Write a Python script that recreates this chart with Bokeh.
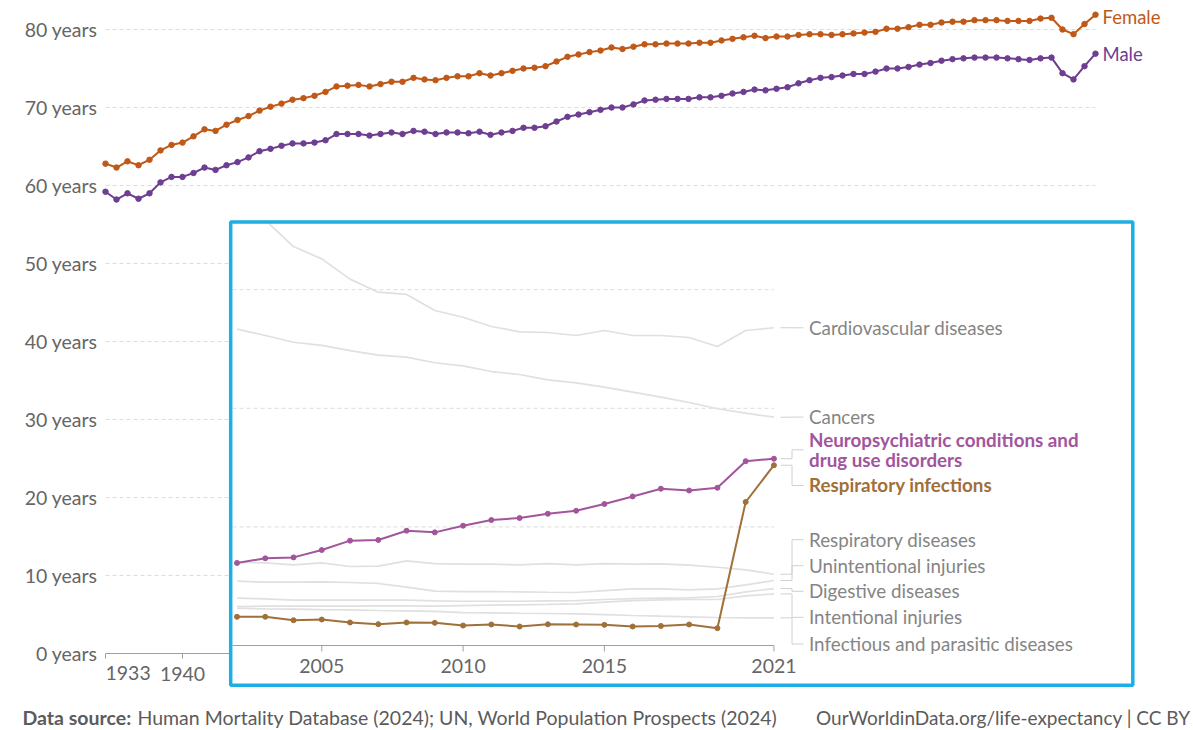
from bokeh.plotting import figure
from bokeh.models import Range1d, FixedTicker, Label, BoxAnnotation, LinearAxis
from bokeh.embed import file_html
from bokeh.resources import INLINE

# ---------------- data ----------------
years = list(range(1933, 2024))
female = [62.8, 62.3, 63.1, 62.6, 63.3, 64.5, 65.2, 65.5, 66.3, 67.2,
          67.0, 67.8, 68.4, 68.9, 69.6, 70.1, 70.5, 71.0, 71.2, 71.5,
          72.0, 72.7, 72.8, 72.9, 72.7, 73.0, 73.3, 73.3, 73.8, 73.6,
          73.5, 73.8, 74.0, 74.0, 74.4, 74.1, 74.4, 74.7, 75.0, 75.1,
          75.3, 75.9, 76.5, 76.8, 77.1, 77.3, 77.7, 77.5, 77.8, 78.1,
          78.1, 78.2, 78.2, 78.2, 78.3, 78.3, 78.6, 78.8, 79.0, 79.2,
          78.9, 79.1, 79.1, 79.3, 79.4, 79.4, 79.3, 79.4, 79.5, 79.6,
          79.7, 80.1, 80.1, 80.3, 80.6, 80.6, 80.9, 81.0, 81.0, 81.2,
          81.2, 81.2, 81.1, 81.1, 81.1, 81.4, 81.5, 80.0, 79.4, 80.7,
          81.9]
male = [59.2, 58.2, 59.0, 58.3, 59.0, 60.4, 61.1, 61.1, 61.6, 62.3,
        62.0, 62.6, 63.0, 63.6, 64.4, 64.7, 65.1, 65.4, 65.4, 65.5,
        65.8, 66.6, 66.6, 66.6, 66.4, 66.6, 66.8, 66.6, 67.0, 66.9,
        66.6, 66.8, 66.8, 66.7, 66.9, 66.5, 66.8, 67.0, 67.4, 67.4,
        67.6, 68.2, 68.8, 69.1, 69.4, 69.7, 70.0, 70.0, 70.4, 70.9,
        71.0, 71.1, 71.1, 71.1, 71.3, 71.3, 71.5, 71.8, 72.0, 72.3,
        72.2, 72.4, 72.6, 73.1, 73.5, 73.8, 73.9, 74.1, 74.3, 74.3,
        74.6, 75.0, 75.0, 75.2, 75.5, 75.7, 76.0, 76.2, 76.3, 76.4,
        76.4, 76.4, 76.3, 76.2, 76.1, 76.3, 76.4, 74.4, 73.6, 75.3,
        76.9]

inset_years = list(range(2002, 2022))
cardiovascular = [float("nan"), 358.7, 336.4, 326.0, 308.9, 297.9, 296.0, 282.5, 276.8, 269.0,
                  264.5, 263.9, 261.4, 265.6, 261.4, 261.4, 259.7, 252.1, 265.6, 267.9]
cancers = [266.7, 261.4, 255.7, 253.0, 248.7, 244.8, 243.1, 238.4, 235.8, 231.0,
           228.5, 224.0, 221.5, 217.8, 213.6, 209.4, 204.9, 199.6, 195.9, 192.5]
neuropsychiatric = [69.6, 73.5, 74.3, 80.5, 88.4, 89.0, 96.8, 95.4, 101.0, 105.8,
                    107.5, 111.1, 113.6, 119.3, 125.7, 132.2, 130.7, 133.0, 155.4, 157.5]
respiratory_infections = [24.2, 24.2, 21.3, 21.9, 19.4, 18.0, 19.4, 19.1, 16.8, 17.7,
                          16.0, 17.9, 17.7, 17.4, 16.0, 16.5, 17.7, 14.6, 121.0, 152.0]
respiratory_diseases = [70.2, 69.7, 68.0, 69.7, 66.6, 66.9, 71.4, 69.1, 68.6, 68.6,
                        68.0, 69.1, 68.0, 69.1, 68.6, 68.8, 67.7, 66.0, 63.8, 60.1]
unintentional_injuries = [54.2, 53.4, 53.4, 53.7, 53.1, 52.3, 49.2, 45.8, 45.5, 45.5,
                          45.2, 44.9, 44.7, 46.3, 47.8, 47.8, 46.9, 47.8, 51.1, 54.8]
digestive_diseases = [39.9, 39.3, 38.2, 38.2, 38.2, 38.2, 38.2, 37.6, 37.3, 37.3,
                      37.3, 37.6, 37.9, 38.8, 39.6, 39.9, 40.2, 41.3, 45.2, 48.0]
intentional_injuries = [32.9, 33.2, 33.2, 33.2, 33.2, 33.4, 33.4, 33.2, 33.7, 34.0,
                        34.3, 34.6, 35.1, 36.5, 37.9, 38.5, 38.8, 38.8, 41.8, 43.5]
infectious_parasitic = [31.5, 30.9, 30.6, 30.3, 30.1, 29.5, 29.2, 28.7, 27.8, 27.5,
                        27.2, 27.0, 26.7, 26.1, 25.3, 24.7, 24.2, 23.6, 23.3, 23.3]

y_ticks = [0, 10, 20, 30, 40, 50, 60, 70, 80]
y_tick_labels = {t: f"{t} years" for t in y_ticks}
main_x_ticks = [1933, 1940]
inset_x_ticks = [2005, 2010, 2015, 2021]
inset_grid_values = [100, 200, 300]

series_names = ["Female", "Male"]
inset_label_names = ["Cardiovascular diseases", "Cancers",
                     "Neuropsychiatric conditions and", "drug use disorders",
                     "Respiratory infections", "Respiratory diseases",
                     "Unintentional injuries", "Digestive diseases",
                     "Intentional injuries", "Infectious and parasitic diseases"]
footer_bold = "Data source:"
footer_text = "Human Mortality Database (2024); UN, World Population Prospects (2024)"
footer_right = "OurWorldinData.org/life-expectancy | CC BY"

# ---------------- styling / geometry ----------------
FONT = "Lato"
C_FEMALE = "#c05917"
C_MALE = "#6d3e91"
C_NEURO = "#a2559c"
C_RESPINF = "#a0703a"
C_GRAYLINE = "#e0e0e0"
C_GRAYTXT = "#858585"
C_AXTXT = "#666666"
C_FOOT = "#5b5b5b"
C_BLUE = "#1eaee6"
AX_SIZE = "19.5px"
LAB_SIZE = "18.8px"

W, H = 1193, 730
X0_PX, MX_PER = 105.0, 11.0      # page px of first year, px per year
Y0_PX, MY_PER = 653.0, 7.8       # page px of 0 years, px per year of life


def mx(px):
    return years[0] + (px - X0_PX) / MX_PER


def my(py):
    return (Y0_PX - py) / MY_PER


I_X0, I_PER_X = 236.5, 28.26
I_Y0, I_PER_Y = 645.0, 1.186


def ix(px):
    return inset_years[0] + (px - I_X0) / I_PER_X


def iy(py):
    return (I_Y0 - py) / I_PER_Y


p = figure(width=W, height=H, output_backend="svg", toolbar_location=None,
           x_range=Range1d(mx(0), mx(W)), y_range=Range1d(my(H), my(0)),
           x_axis_type=None, y_axis_type=None,
           min_border_left=0, min_border_right=0, min_border_top=0, min_border_bottom=0)
p.extra_x_ranges = {"inset": Range1d(ix(0), ix(W))}
p.extra_y_ranges = {"inset": Range1d(iy(H), iy(0))}
p.outline_line_color = None
p.background_fill_color = "white"
p.border_fill_color = "white"
p.xgrid.visible = False
p.ygrid.visible = False

# main gridlines (dashed, span the data years)
grid_vals = y_ticks[1:]
p.segment(x0=[years[0]] * len(grid_vals), x1=[years[-1]] * len(grid_vals),
          y0=grid_vals, y1=grid_vals, line_color="#dcdcdc", line_width=1,
          line_dash="4 3", level="underlay")

# axes
yax = LinearAxis(fixed_location=years[0], ticker=FixedTicker(ticks=y_ticks),
                 major_label_overrides=y_tick_labels)
yax.axis_line_color = None
yax.major_tick_line_color = None
yax.minor_tick_line_color = None
yax.major_tick_out = 0
yax.major_tick_in = 0
yax.major_label_standoff = 8
yax.major_label_text_font = FONT
yax.major_label_text_font_size = AX_SIZE
yax.major_label_text_color = C_AXTXT
p.add_layout(yax, "left")

xax = LinearAxis(fixed_location=0, ticker=FixedTicker(ticks=main_x_ticks),
                 major_label_overrides={main_x_ticks[0]: ""}, bounds=(years[0], mx(229)))
xax.axis_line_color = "#a0a0a0"
xax.major_tick_line_color = "#a0a0a0"
xax.major_tick_in = 0
xax.major_tick_out = 5
xax.minor_tick_line_color = None
xax.major_label_standoff = 8
xax.major_label_text_font = FONT
xax.major_label_text_font_size = AX_SIZE
xax.major_label_text_color = C_AXTXT
p.add_layout(xax, "below")

p.add_layout(Label(x=main_x_ticks[0], y=my(672), text=str(main_x_ticks[0]), text_align="left",
                   text_baseline="middle", text_font=FONT, text_font_size=AX_SIZE,
                   text_color=C_AXTXT))

# main series
for vals, col, name, yoff in [(female, C_FEMALE, series_names[0], -2), (male, C_MALE, series_names[1], 0)]:
    p.line(years, vals, line_color=col, line_width=2)
    p.scatter(years, vals, size=5.5, fill_color=col, line_color=col)
    p.add_layout(Label(x=years[-1], y=vals[-1], x_offset=7, y_offset=yoff, text=name,
                       text_baseline="middle", text_font=FONT, text_font_size="18.5px",
                       text_color=col))

# inset panel background
BOX = dict(left=mx(230.2), right=mx(1132.3), top=my(221.5), bottom=my(684.7))
p.add_layout(BoxAnnotation(**BOX, fill_color="white", fill_alpha=1.0, line_color=None,
                           level="annotation"))

IR = dict(x_range_name="inset", y_range_name="inset", level="overlay")

# inset gridlines and axis
p.segment(x0=[ix(232)] * len(inset_grid_values), x1=[inset_years[-1]] * len(inset_grid_values),
          y0=inset_grid_values, y1=inset_grid_values, line_color="#dcdcdc", line_width=1,
          line_dash="4 3", **IR)
p.segment(x0=[ix(232)], x1=[inset_years[-1]], y0=[0], y1=[0], line_color="#a0a0a0",
          line_width=1, **IR)
p.segment(x0=inset_x_ticks, x1=inset_x_ticks, y0=[0] * len(inset_x_ticks),
          y1=[iy(651)] * len(inset_x_ticks), line_color="#a0a0a0", line_width=1, **IR)
for t in inset_x_ticks:
    p.add_layout(Label(x=t, y=iy(665), text=str(t), text_align="center",
                       text_baseline="middle", text_font=FONT, text_font_size=AX_SIZE,
                       text_color=C_AXTXT, x_range_name="inset", y_range_name="inset",
                       level="overlay"))

# inset series
gray_series = [cardiovascular, cancers, respiratory_diseases, unintentional_injuries,
               digestive_diseases, intentional_injuries, infectious_parasitic]
for s in gray_series:
    p.line(inset_years, s, line_color=C_GRAYLINE, line_width=1.7, **IR)
for s, col in [(neuropsychiatric, C_NEURO), (respiratory_infections, C_RESPINF)]:
    p.line(inset_years, s, line_color=col, line_width=2, **IR)
    p.scatter(inset_years, s, size=5, fill_color=col, line_color=col, **IR)

# inset labels: (series, text indices, text centres in page px, connector y in page px, color, bold)
label_specs = [
    (cardiovascular, [0], [326.5], 327.3, C_GRAYTXT, False),
    (cancers, [1], [416.0], 416.6, C_GRAYTXT, False),
    (neuropsychiatric, [2, 3], [438.5, 458.5], 449.3, C_NEURO, True),
    (respiratory_infections, [4], [484.0], 485.0, C_RESPINF, True),
    (respiratory_diseases, [5], [538.5], 539.2, C_GRAYTXT, False),
    (unintentional_injuries, [6], [564.5], 565.2, C_GRAYTXT, False),
    (digestive_diseases, [7], [590.0], 590.8, C_GRAYTXT, False),
    (intentional_injuries, [8], [616.0], 616.8, C_GRAYTXT, False),
    (infectious_parasitic, [9], [642.5], 643.5, C_GRAYTXT, False),
]
cx, cy = [], []
for s, idxs, mids, conn, col, bold in label_specs:
    end = s[-1]
    cx.append([ix(780), ix(791.5), ix(791.5), ix(803)])
    cy.append([end, end, iy(conn), iy(conn)])
    for i, m in zip(idxs, mids):
        p.add_layout(Label(x=ix(808.5), y=iy(m), text=inset_label_names[i], text_align="left",
                           text_baseline="middle", text_font=FONT, text_font_size=LAB_SIZE,
                           text_color=col, text_font_style="bold" if bold else "normal",
                           x_range_name="inset", y_range_name="inset", level="overlay"))
p.multi_line(cx, cy, line_color="#d0d0d0", line_width=1, **IR)

# inset border on top
p.add_layout(BoxAnnotation(**BOX, fill_alpha=0.0, line_color=C_BLUE, line_alpha=1.0,
                           line_width=3.5, level="overlay"))

# footer
p.add_layout(Label(x=mx(22), y=my(717), text=footer_bold, text_font=FONT, text_font_size="19.5px",
                   text_font_style="bold", text_color=C_FOOT, text_baseline="middle"))
p.add_layout(Label(x=mx(137), y=my(717), text=footer_text, text_font=FONT, text_font_size="19.5px",
                   text_color=C_FOOT, text_baseline="middle"))
p.add_layout(Label(x=mx(1190), y=my(717), text=footer_right, text_font=FONT, text_font_size="19px",
                   text_color=C_FOOT, text_baseline="middle", text_align="right"))

open("out.html", "w").write(file_html(p, INLINE))
